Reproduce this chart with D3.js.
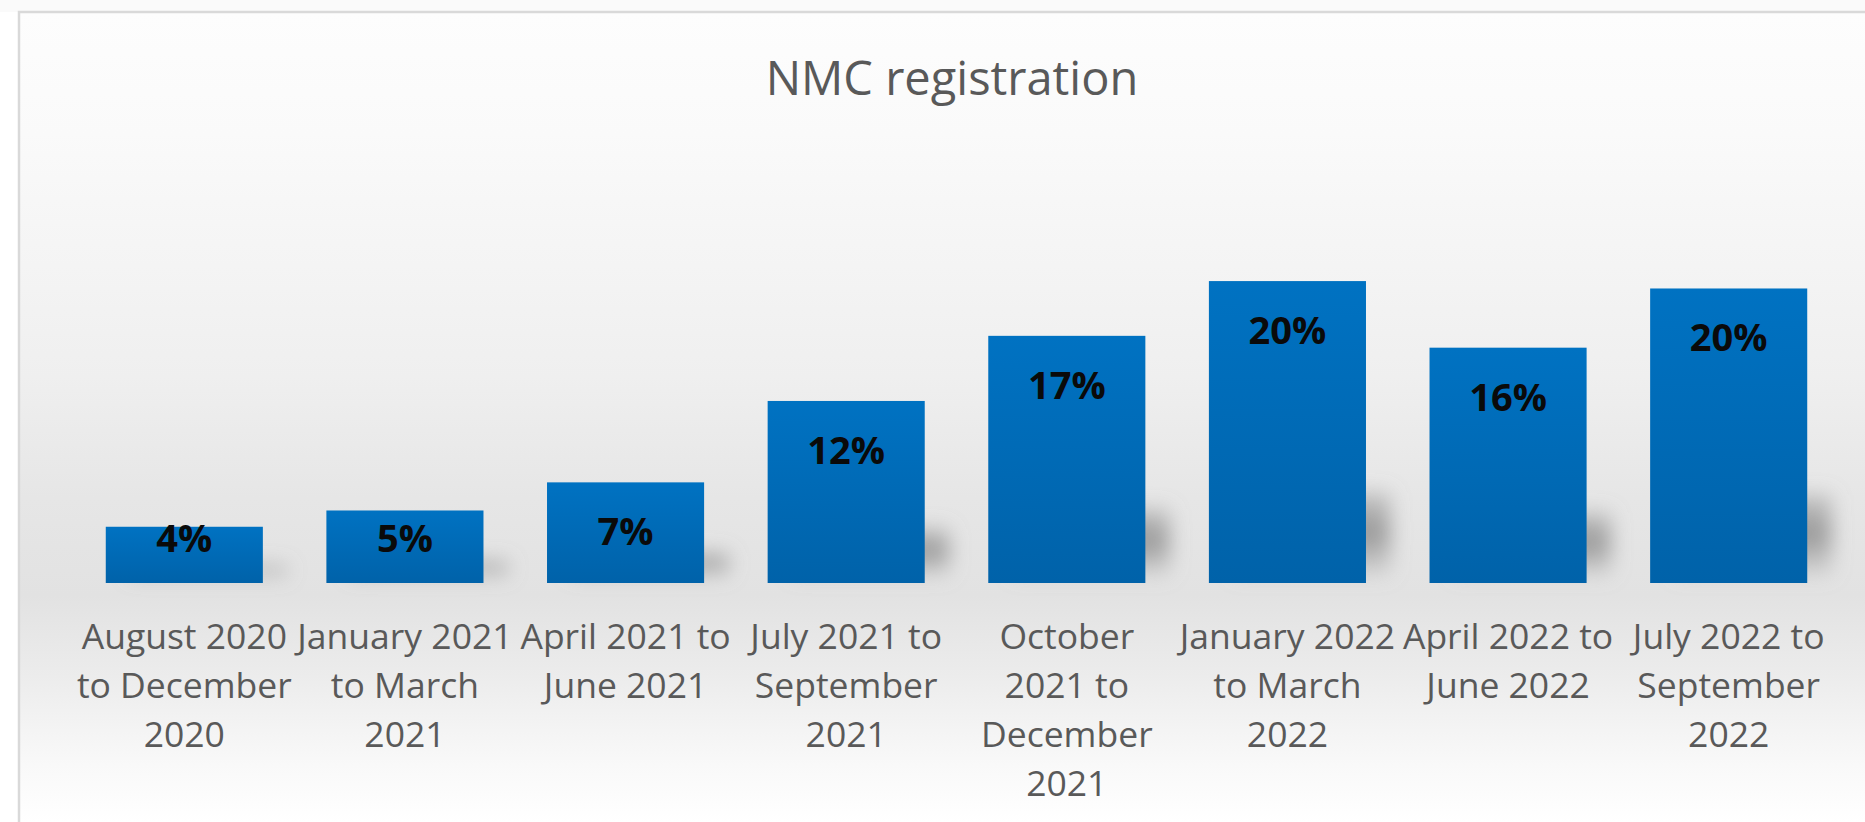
<!DOCTYPE html>
<html>
<head>
<meta charset="utf-8">
<script src="https://cdn.jsdelivr.net/npm/d3@7"></script>
<style>
  html, body { margin: 0; padding: 0; background: #ffffff; }
  svg { display: block; }
</style>
</head>
<body>
<svg id="chart" width="1865" height="822"></svg>
<script>
// ---- data ----
const title = "NMC registration";
const categories = [
  "August 2020\nto December\n2020",
  "January 2021\nto March\n2021",
  "April 2021 to\nJune 2021",
  "July 2021 to\nSeptember\n2021",
  "October\n2021 to\nDecember\n2021",
  "January 2022\nto March\n2022",
  "April 2022 to\nJune 2022",
  "July 2022 to\nSeptember\n2022"
];
const values = [0.038, 0.049, 0.068, 0.123, 0.167, 0.204, 0.159, 0.199];
const yDomain = [0, 0.25];

// ---- layout ----
const W = 1865, H = 822;
const plot = { left: 74, right: 1839, top: 213, bottom: 583 };

const svg = d3.select("#chart");
const defs = svg.append("defs");

// background gradient
const bg = defs.append("linearGradient").attr("id", "bgGrad")
  .attr("gradientUnits", "userSpaceOnUse")
  .attr("x1", 0).attr("y1", 12).attr("x2", 0).attr("y2", 822);
[[0, "#fdfdfd"], [0.15, "#fafafa"], [0.45, "#efefef"], [0.6, "#e6e6e6"], [0.72, "#e2e2e2"],
 [0.82, "#ececec"], [0.93, "#f9f9f9"], [1, "#ffffff"]]
  .forEach(([o, c]) => bg.append("stop").attr("offset", o).attr("stop-color", c));

// bar gradient
const bgBar = defs.append("linearGradient").attr("id", "barGrad")
  .attr("x1", 0).attr("y1", 0).attr("x2", 0).attr("y2", 1);
bgBar.append("stop").attr("offset", 0).attr("stop-color", "#0072c2");
bgBar.append("stop").attr("offset", 1).attr("stop-color", "#0062a9");

// shadow gradient + blur
const shGrad = defs.append("linearGradient").attr("id", "shGrad")
  .attr("x1", 0).attr("y1", 0).attr("x2", 0).attr("y2", 1);
shGrad.append("stop").attr("offset", 0).attr("stop-color", "#8c8c8c").attr("stop-opacity", 0.35);
shGrad.append("stop").attr("offset", 0.5).attr("stop-color", "#848484").attr("stop-opacity", 0.8);
shGrad.append("stop").attr("offset", 1).attr("stop-color", "#9a9a9a").attr("stop-opacity", 0.2);
const blur = defs.append("filter").attr("id", "blur")
  .attr("x", "-50%").attr("y", "-50%").attr("width", "200%").attr("height", "200%");
blur.append("feGaussianBlur").attr("stdDeviation", 10);

// outer frame
svg.append("rect").attr("x", 0).attr("y", 0).attr("width", W).attr("height", 12).attr("fill", "#fafafa");
svg.append("rect")
  .attr("x", 19).attr("y", 12).attr("width", W + 20).attr("height", H + 20)
  .attr("fill", "url(#bgGrad)")
  .attr("stroke", "#d9d9d9").attr("stroke-width", 2.5);

// title
svg.append("text")
  .attr("x", 952).attr("y", 95)
  .attr("text-anchor", "middle")
  .attr("font-family", "'Open Sans', 'Noto Sans', sans-serif")
  .attr("font-weight", 400)
  .attr("font-size", 47)
  .attr("fill", "#595959")
  .text(title);

// scales
const x = d3.scaleBand()
  .domain(categories)
  .range([plot.left, plot.right])
  .paddingInner(0.288)
  .paddingOuter(0.144);
const y = d3.scaleLinear().domain(yDomain).range([plot.bottom, plot.top]);

const data = categories.map((c, i) => ({ c, v: values[i] }));

// shadows (perspective-like, scaled to bar height)
svg.append("g").attr("filter", "url(#blur)")
  .selectAll("rect").data(data).join("rect")
  .attr("x", d => x(d.c) + 24)
  .attr("width", x.bandwidth())
  .attr("y", d => y(0) - 0.3 * (y(0) - y(d.v)))
  .attr("height", d => Math.max(0.3 * (y(0) - y(d.v)) - 8, 4))
  .attr("fill", "url(#shGrad)");

// bars
svg.append("g").selectAll("rect").data(data).join("rect")
  .attr("x", d => x(d.c))
  .attr("width", x.bandwidth())
  .attr("y", d => y(d.v))
  .attr("height", d => y(0) - y(d.v))
  .attr("fill", "url(#barGrad)");

// data labels
const fmt = d3.format(".0%");
svg.append("g").selectAll("text").data(data).join("text")
  .attr("x", d => x(d.c) + x.bandwidth() / 2)
  .attr("y", d => Math.min(y(d.v) + 63, y(0) - 31))
  .attr("text-anchor", "middle")
  .attr("font-family", "'Open Sans', 'Noto Sans', sans-serif")
  .attr("font-weight", 700)
  .attr("font-size", 38)
  .attr("fill", "#0a0a0a")
  .text(d => fmt(d.v));

// category axis
const axis = svg.append("g")
  .attr("transform", `translate(0,${plot.bottom})`)
  .call(d3.axisBottom(x).tickSize(0).tickPadding(0));
axis.select(".domain").remove();
axis.selectAll(".tick text").each(function(d) {
  const t = d3.select(this);
  t.text(null)
    .attr("y", 0)
    .attr("dy", null)
    .attr("font-family", "'Open Sans', 'Noto Sans', sans-serif")
    .attr("font-size", 35.5)
    .attr("fill", "#595959")
    .attr("text-anchor", "middle");
  d.split("\n").forEach((line, i) => {
    t.append("tspan").attr("x", 0).attr("y", 66 + i * 49).text(line);
  });
});
</script>
</body>
</html>
